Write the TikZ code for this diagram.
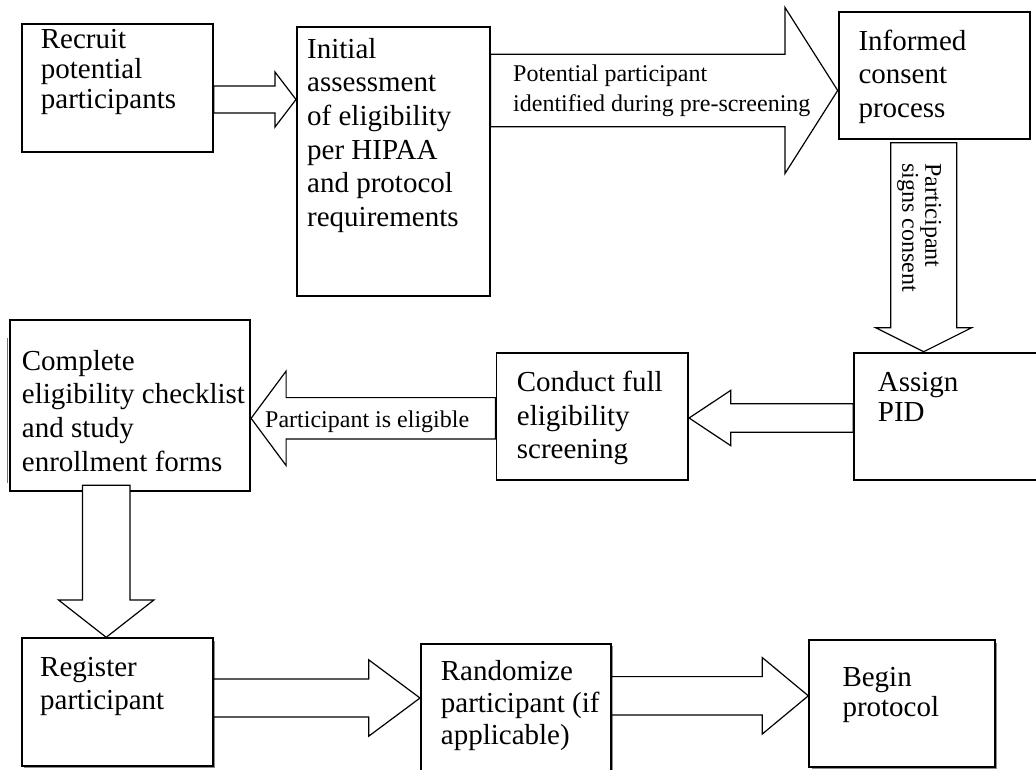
\documentclass[tikz,border=0pt]{standalone}
\usepackage{fontspec}
\setmainfont{Liberation Serif}
\usetikzlibrary{calc}
\tikzset{
  box/.style={draw=black, line width=1.8pt, fill=white, inner sep=0pt, anchor=north west},
  shade/.style={fill=black!45, draw=none, inner sep=0pt, anchor=north west},
  txt/.style={anchor=base west, align=left, inner sep=0pt, font=\fontsize{29}{#1}\selectfont},
  lbl/.style={anchor=base west, align=left, inner sep=0pt, font=\fontsize{24}{30}\selectfont},
  blk/.style={draw=black, fill=white, line width=1.2pt, line join=miter},
}
% block arrows: start, tip, shaft half width, head half width, head length
\newcommand{\rarrow}[5]{\path[blk] let \p1=(#1), \p2=(#2) in
  (\x1,\y2+#3pt) -- (\x2-#5pt,\y2+#3pt) -- (\x2-#5pt,\y2+#4pt) -- (\x2,\y2)
  -- (\x2-#5pt,\y2-#4pt) -- (\x2-#5pt,\y2-#3pt) -- (\x1,\y2-#3pt) -- cycle;}
\newcommand{\larrow}[5]{\path[blk] let \p1=(#1), \p2=(#2) in
  (\x1,\y2+#3pt) -- (\x2+#5pt,\y2+#3pt) -- (\x2+#5pt,\y2+#4pt) -- (\x2,\y2)
  -- (\x2+#5pt,\y2-#4pt) -- (\x2+#5pt,\y2-#3pt) -- (\x1,\y2-#3pt) -- cycle;}
\newcommand{\darrow}[5]{\path[blk] let \p1=(#1), \p2=(#2) in
  (\x2-#3pt,\y1) -- (\x2-#3pt,\y2+#5pt) -- (\x2-#4pt,\y2+#5pt) -- (\x2,\y2)
  -- (\x2+#4pt,\y2+#5pt) -- (\x2+#3pt,\y2+#5pt) -- (\x2+#3pt,\y1) -- cycle;}
\begin{document}
\begin{tikzpicture}[x=1pt, y=-1pt]
\useasboundingbox[fill=white] (0,0) rectangle (1036,769);

% shadows of the bottom row
\node[shade, minimum width=191pt, minimum height=127.7pt] (s7) at (24,640.3) {};
\node[shade, minimum width=190pt, minimum height=130pt] (s8) at (423,645.7) {};
\node[shade, minimum width=185.7pt, minimum height=126.4pt] (s9) at (811.3,642.3) {};
\draw[black!55, line width=1.4pt] (7.3,338) -- (7.3,483);

% boxes
\node[box, minimum width=191pt, minimum height=127.7pt] (b1) at (21,23) {};
\node[box, minimum width=192.7pt, minimum height=269pt] (b2) at (296,25.7) {};
\node[box, minimum width=191.3pt, minimum height=126.7pt] (b3) at (837.7,11) {};
\node[box, minimum width=200pt, minimum height=127.6pt] (b4) at (853.3,351.7) {};
\node[box, minimum width=191.8pt, minimum height=127.3pt] (b5) at (495.5,352) {};
\node[box, minimum width=240pt, minimum height=171.3pt] (b6) at (9.3,319) {};
\node[box, minimum width=191pt, minimum height=127.7pt] (b7) at (21,637.3) {};
\node[box, minimum width=190pt, minimum height=130pt] (b8) at (420,642.7) {};
\node[box, minimum width=185.7pt, minimum height=126.4pt] (b9) at (808.3,639.3) {};

% arrow end points
\coordinate (a1s) at (b1.east |- 0,99.5);  \coordinate (a1t) at (b2.west |- 0,99.5);
\coordinate (a2s) at (b2.east |- 0,90.5);  \coordinate (a2t) at (b3.west |- 0,90.5);
\coordinate (a3s) at (923.7,142.7);        \coordinate (a3t) at (b4.north -| 923.7,0);
\coordinate (a4s) at (b4.west |- 0,418);   \coordinate (a4t) at (b5.east |- 0,418);
\coordinate (a5s) at (b5.west |- 0,418.3); \coordinate (a5t) at (b6.east |- 0,418.3);
\coordinate (a6s) at (106.2,485.3);        \coordinate (a6t) at (b7.north -| 106.2,0);
\coordinate (a7s) at (b7.east |- 0,698);   \coordinate (a7t) at (b8.west |- 0,698);
\coordinate (a8s) at (b8.east |- 0,695.8); \coordinate (a8t) at (b9.west |- 0,695.8);

\rarrow{a1s}{a1t}{13.5}{27.5}{21}
\rarrow{a2s}{a2t}{36.2}{83}{52.7}
\darrow{a3s}{a3t}{33}{48}{24}
\larrow{a4s}{a4t}{14.2}{27.7}{41.7}
\larrow{a5s}{a5t}{20.7}{47.2}{35}
\darrow{a6s}{a6t}{23.8}{47.8}{37.4}
\rarrow{a7s}{a7t}{19}{38.2}{51.3}
\rarrow{a8s}{a8t}{19.2}{38.2}{46}

% box texts (anchored at the baseline of the last line)
\node[txt=30] (t1) at (40.7,108) {Recruit\\potential\\participants};
\node[txt=33.7] (t2) at (307,226.5) {Initial\\assessment\\of eligibility\\per HIPAA\\and protocol\\requirements};
\node[txt=33.5] (t3) at (858.3,117) {Informed\\consent\\process};
\node[txt=30] (t4) at (877.7,421.7) {Assign\\PID};
\node[txt=33.3] (t5) at (516.7,458.3) {Conduct full\\eligibility\\screening};
\node[txt=33.7] (t6) at (21.7,471.1) {Complete\\eligibility checklist\\and study\\enrollment forms};
\node[txt=32.7] (t7) at (40,709.4) {Register\\participant};
\node[txt=31.7] (t8) at (440.7,744.1) {Randomize\\participant (if\\applicable)};
\node[txt=30.7] (t9) at (842.3,716.7) {Begin\\protocol};

% arrow labels
\node[lbl] (l2) at (513,111.7) {Potential participant\\identified during pre-screening};
\node[lbl, font=\fontsize{24}{23}\selectfont, rotate=-90] (l3) at (902.3,163.3) {Participant\\signs consent};
\node[lbl] (l5) at (265,427) {Participant is eligible};
\end{tikzpicture}
\end{document}
